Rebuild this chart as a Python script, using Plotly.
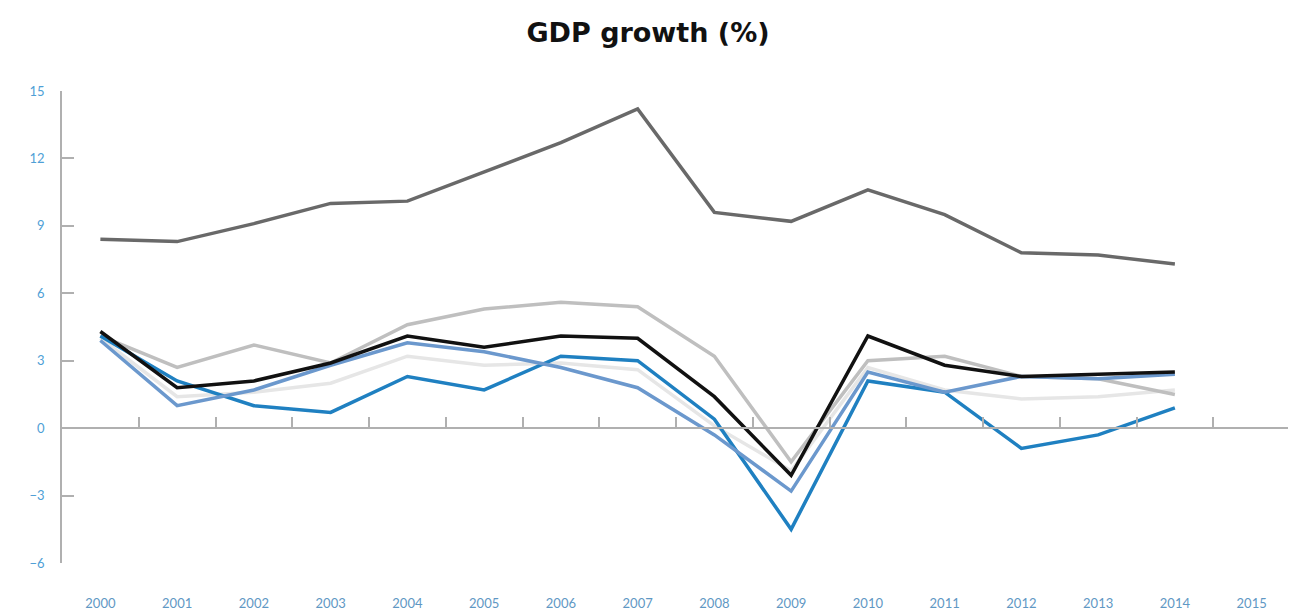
import plotly.graph_objects as go

years = [str(y) for y in range(2000, 2016)]
data_years = [str(y) for y in range(2000, 2015)]

dark_gray_series = [8.4, 8.3, 9.1, 10.0, 10.1, 11.4, 12.7, 14.2, 9.6, 9.2, 10.6, 9.5, 7.8, 7.7, 7.3]
black_series = [4.3, 1.8, 2.1, 2.9, 4.1, 3.6, 4.1, 4.0, 1.4, -2.1, 4.1, 2.8, 2.3, 2.4, 2.5]
light_gray_series = [4.1, 2.7, 3.7, 2.9, 4.6, 5.3, 5.6, 5.4, 3.2, -1.5, 3.0, 3.2, 2.3, 2.2, 1.5]
faint_series = [4.0, 1.4, 1.6, 2.0, 3.2, 2.8, 2.9, 2.6, 0.1, -1.9, 2.7, 1.7, 1.3, 1.4, 1.7]
mid_blue_series = [3.9, 1.0, 1.7, 2.8, 3.8, 3.4, 2.7, 1.8, -0.3, -2.8, 2.5, 1.6, 2.3, 2.2, 2.4]
bright_blue_series = [4.1, 2.1, 1.0, 0.7, 2.3, 1.7, 3.2, 3.0, 0.4, -4.5, 2.1, 1.6, -0.9, -0.3, 0.9]

y_ticks = [-6, -3, 0, 3, 6, 9, 12, 15]

series = [
    ("Series E", faint_series, "#e6e6e6"),
    ("Series C", light_gray_series, "#bfbfbf"),
    ("Series A", dark_gray_series, "#696969"),
    ("Series F", bright_blue_series, "#1f80c1"),
    ("Series D", mid_blue_series, "#6b98cd"),
    ("Series B", black_series, "#111111"),
]

fig = go.Figure()
for name, vals, color in series:
    fig.add_trace(go.Scatter(x=data_years, y=vals, mode="lines", name=name,
                             line=dict(color=color, width=3.5), showlegend=False))

# helper trace so the zero-line axis is drawn
fig.add_trace(go.Scatter(x=years, y=[None] * len(years), xaxis="x2", mode="lines",
                         showlegend=False, hoverinfo="skip"))

y_label_font = dict(family="Lato, Open Sans, sans-serif", size=13, color="#4f9fd6")
x_label_font = dict(family="Lato, Open Sans, sans-serif", size=13, color="#5f98c4")

# page body has an 8px margin, so the figure is sized to fit the window
W, H = 1288, 603

fig.update_layout(
    width=W, height=H,
    margin=dict(l=54, r=6, t=83, b=48),
    paper_bgcolor="white", plot_bgcolor="white",
    title=dict(text="<b>GDP growth (%)</b>", x=640 / W, xref="container", xanchor="center",
               y=1 - 25 / H, yref="container", yanchor="middle",
               font=dict(family="DejaVu Sans, sans-serif", size=27, color="#111111")),
    xaxis=dict(type="category", categoryorder="array", categoryarray=years,
               range=[-0.5, 15.5], showline=False, showgrid=False, zeroline=False,
               ticks="", tickfont=x_label_font, ticklabelstandoff=31, automargin=False),
    xaxis2=dict(type="category", categoryorder="array", categoryarray=years,
                range=[-0.5, 15.5], overlaying="x", anchor="free", position=6 / 21,
                showline=True, linecolor="#b0b0b0", linewidth=1.5,
                ticks="inside", ticklen=10, tickwidth=1.5, tickcolor="#b0b0b0",
                tickson="boundaries", showticklabels=False, showgrid=False, zeroline=False,
                automargin=False),
    yaxis=dict(range=[-6, 15], tickvals=y_ticks, showline=True, linecolor="#b0b0b0",
               linewidth=1.5, ticks="inside", ticklen=12, tickwidth=1.5, tickcolor="#b0b0b0",
               showgrid=False, zeroline=False, tickfont=y_label_font, ticklabelstandoff=13,
               automargin=False),
)

fig.write_html("out.html")
